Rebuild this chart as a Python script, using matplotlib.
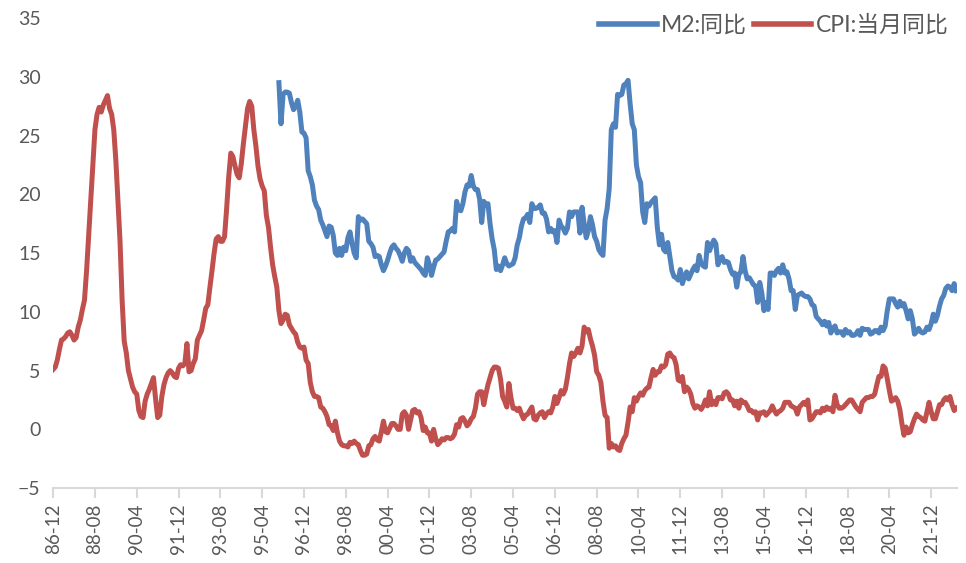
import matplotlib
matplotlib.use('Agg')
import matplotlib.pyplot as plt
import pandas as pd

plt.rcParams['font.family'] = ['Lato', 'Noto Sans CJK SC', 'DejaVu Sans']

# Monthly data, 1986-12 .. 2022-12
start_month = '1986-12'
end_month = '2022-12'
m2_start = '1995-12'

cpi = [5.1,
       5.3, 5.9, 6.8, 7.6, 7.7, 7.9, 8.2, 8.3, 8.0, 7.6, 7.8, 8.7,
       9.3, 10.2, 11.0, 13.5, 16.5, 19.5, 22.5, 25.5, 26.8, 27.4, 27.0, 27.6,
       28.0, 28.4, 27.3, 26.8, 25.5, 22.9, 19.5, 16.0, 11.0, 7.5, 6.5, 5.0,
       4.3, 3.6, 3.2, 3.0, 1.6, 1.1, 1.0, 2.4, 3.0, 3.4, 3.9, 4.4,
       2.6, 1.0, 1.2, 2.8, 3.8, 4.4, 4.8, 5.0, 4.8, 4.5, 4.4, 5.2,
       5.5, 5.4, 5.6, 7.3, 4.9, 5.0, 5.6, 6.0, 7.6, 8.0, 8.4, 9.3,
       10.3, 10.6, 12.1, 13.5, 15.0, 16.2, 16.4, 16.0, 16.0, 16.4, 18.8, 21.5,
       23.5, 23.2, 22.4, 21.7, 21.4, 22.6, 24.3, 25.8, 27.3, 27.9, 27.5, 25.5,
       24.1, 22.4, 21.3, 20.7, 20.3, 18.2, 17.2, 15.5, 14.0, 13.0, 12.1, 10.1,
       9.0, 9.3, 9.8, 9.7, 8.9, 8.6, 8.3, 8.1, 7.4, 7.0, 6.9, 7.0,
       5.9, 5.6, 4.0, 3.2, 2.8, 2.8, 2.7, 1.9, 1.8, 1.5, 1.1, 0.4,
       0.3, -0.1, 0.7, -0.3, -1.0, -1.3, -1.4, -1.4, -1.5, -1.1, -1.2, -1.0,
       -1.2, -1.3, -1.8, -2.2, -2.2, -2.1, -1.4, -1.3, -0.8, -0.6, -0.9, -1.0,
       -0.2, 0.7, -0.2, -0.3, 0.1, 0.5, 0.5, 0.3, 0.0, 0.0, 1.3, 1.5,
       1.2, 0.0, 0.8, 1.6, 1.7, 1.4, 1.5, 1.0, -0.1, 0.2, -0.3, -0.3,
       -1.0, 0.0, -0.8, -1.3, -1.1, -0.8, -0.9, -0.7, -0.7, -0.8, -0.7, -0.4,
       0.4, 0.2, 0.9, 1.0, 0.7, 0.3, 0.5, 0.9, 1.1, 1.8, 3.0, 3.2,
       3.2, 2.1, 3.0, 3.8, 4.4, 5.0, 5.3, 5.3, 5.2, 4.3, 2.8, 2.4,
       1.9, 3.9, 2.7, 1.8, 1.8, 1.6, 1.8, 1.3, 0.9, 1.2, 1.3, 1.6,
       1.9, 0.9, 0.8, 1.2, 1.4, 1.5, 1.0, 1.3, 1.5, 1.4, 1.9, 2.8,
       2.2, 2.7, 3.3, 3.0, 3.4, 4.4, 5.6, 6.5, 6.2, 6.5, 6.9, 6.5,
       7.1, 8.7, 8.3, 8.5, 7.7, 7.1, 6.3, 4.9, 4.6, 4.0, 2.4, 1.2,
       1.0, -1.6, -1.2, -1.5, -1.4, -1.7, -1.8, -1.2, -0.8, -0.5, 0.6, 1.9,
       1.5, 2.7, 2.4, 2.8, 3.1, 2.9, 3.3, 3.5, 3.6, 4.4, 5.1, 4.6,
       4.9, 4.9, 5.4, 5.3, 5.5, 6.4, 6.5, 6.2, 6.1, 5.5, 4.2, 4.1,
       4.5, 3.2, 3.6, 3.4, 3.0, 2.2, 1.8, 2.0, 1.9, 1.7, 2.0, 2.5,
       2.0, 3.2, 2.1, 2.4, 2.1, 2.7, 2.7, 2.6, 3.1, 3.2, 3.0, 2.5,
       2.5, 2.0, 2.4, 1.8, 2.5, 2.3, 2.3, 2.0, 1.6, 1.6, 1.4, 1.5,
       0.8, 1.4, 1.4, 1.5, 1.2, 1.4, 1.6, 2.0, 1.6, 1.3, 1.5, 1.6,
       1.8, 2.3, 2.3, 2.3, 2.0, 1.9, 1.8, 1.3, 1.9, 2.1, 2.3, 2.1,
       2.5, 0.8, 0.9, 1.2, 1.5, 1.5, 1.4, 1.8, 1.6, 1.9, 1.7, 1.8,
       1.5, 2.9, 2.1, 1.8, 1.8, 1.9, 2.1, 2.3, 2.5, 2.5, 2.2, 1.9,
       1.7, 1.5, 2.3, 2.5, 2.7, 2.7, 2.8, 2.8, 3.0, 3.8, 4.5, 4.5,
       5.4, 5.2, 4.3, 3.3, 2.4, 2.5, 2.7, 2.4, 1.7, 0.5, -0.5, 0.2,
       -0.3, -0.2, 0.4, 0.9, 1.3, 1.1, 1.0, 0.8, 0.7, 1.5, 2.3, 1.5,
       0.9, 0.9, 1.5, 2.1, 2.1, 2.5, 2.7, 2.5, 2.8, 2.1, 1.6, 1.8]

m2 = [29.5,
      26.0, 28.5, 28.7, 28.7, 28.6, 27.8, 27.2, 27.5, 28.0, 27.0, 25.3, 25.2,
      24.8, 22.0, 21.5, 20.8, 19.5, 19.0, 18.7, 17.8, 17.4, 16.9, 16.4, 17.3,
      17.2, 16.5, 15.0, 14.8, 15.4, 14.8, 15.5, 15.2, 16.3, 16.8, 15.8, 15.0,
      14.6, 18.1, 17.8, 17.9, 17.7, 17.5, 16.0, 15.8, 15.5, 14.7, 14.8, 14.7,
      14.0, 13.5, 13.9, 14.4, 15.0, 15.5, 15.7, 15.4, 15.2, 14.8, 14.3, 15.0,
      15.4, 15.2, 14.3, 14.6, 14.2, 14.0, 13.8, 13.6, 13.3, 13.1, 14.6, 14.0,
      13.1, 13.8, 14.4, 14.5, 14.7, 14.9, 15.1, 16.0, 16.8, 16.9, 17.1, 16.8,
      19.4, 18.7, 18.6, 19.2, 20.2, 20.8, 20.7, 21.6, 20.7, 20.4, 20.4, 19.6,
      17.6, 19.4, 19.1, 19.2, 17.5, 16.2, 15.3, 13.6, 13.9, 13.5, 14.0, 14.6,
      14.1, 13.9, 14.0, 14.1, 14.6, 15.7, 16.3, 17.3, 17.9, 18.0, 18.3, 17.6,
      19.2, 18.8, 18.8, 18.9, 19.1, 18.4, 18.4, 17.9, 16.8, 17.1, 16.8, 16.9,
      15.9, 17.8, 17.3, 17.1, 16.7, 17.1, 18.5, 18.1, 18.5, 18.5, 18.5, 16.7,
      18.9, 17.5, 16.3, 16.9, 18.1, 17.4, 16.4, 16.0, 15.3, 15.0, 14.8, 17.8,
      18.8, 20.5, 25.5, 26.0, 25.7, 28.5, 28.4, 28.5, 29.3, 29.4, 29.7, 27.7,
      26.0, 25.5, 22.5, 21.5, 21.0, 18.5, 17.6, 19.2, 19.0, 19.3, 19.5, 19.7,
      17.2, 15.7, 16.6, 15.3, 15.1, 15.9, 14.7, 13.5, 13.0, 12.9, 12.7, 13.6,
      12.4, 13.0, 13.4, 12.8, 13.2, 13.6, 13.9, 13.5, 14.8, 14.1, 13.9, 13.8,
      15.9, 15.2, 15.7, 16.1, 15.8, 14.0, 14.5, 14.7, 14.2, 14.3, 14.2, 13.6,
      13.2, 13.3, 12.1, 13.2, 13.4, 14.7, 13.5, 12.8, 12.9, 12.6, 12.3, 12.2,
      10.8, 12.5, 11.6, 10.1, 10.8, 10.2, 13.3, 13.3, 13.1, 13.5, 13.7, 13.3,
      14.0, 13.3, 13.4, 12.8, 11.8, 11.8, 10.2, 11.4, 11.5, 11.6, 11.4, 11.3,
      11.3, 11.1, 10.6, 10.5, 9.6, 9.4, 9.2, 8.9, 9.2, 8.8, 9.1, 8.2,
      8.6, 8.8, 8.2, 8.3, 8.3, 8.0, 8.5, 8.2, 8.3, 8.0, 8.0, 8.1,
      8.4, 8.0, 8.6, 8.5, 8.5, 8.5, 8.1, 8.2, 8.4, 8.4, 8.2, 8.7,
      8.4, 8.8, 10.1, 11.1, 11.1, 11.1, 10.7, 10.4, 10.9, 10.5, 10.7, 10.1,
      9.4, 10.1, 9.4, 8.1, 8.3, 8.6, 8.3, 8.2, 8.3, 8.7, 8.5, 9.0,
      9.8, 9.2, 9.7, 10.5, 11.1, 11.4, 12.0, 12.2, 12.1, 11.8, 12.4, 11.8]

months = pd.period_range(start_month, end_month, freq='M')
labels = [p.strftime('%y-%m') for p in months]
m2_offset = list(months).index(pd.Period(m2_start, freq='M'))

blue = '#4F81BD'
red = '#C0504D'
text_gray = '#595959'
axis_gray = '#D9D9D9'

fig = plt.figure(figsize=(9.66, 5.63), dpi=100)
ax = fig.add_axes([0.055, 0.133, 0.936, 0.835])

x_all = list(range(len(months)))
ax.plot(x_all[m2_offset:], m2, color=blue, lw=3.6, label='M2:同比', solid_joinstyle='round')
ax.plot(x_all, cpi, color=red, lw=3.6, label='CPI:当月同比', solid_joinstyle='round')

ax.set_xlim(0, len(months) - 0.5)
ax.set_ylim(-5, 35)
ax.set_yticks(range(-5, 36, 5))
tick_pos = list(range(0, len(months), 20))
ax.set_xticks(tick_pos)
ax.set_xticklabels([labels[i] for i in tick_pos], rotation=90)

for s in ['top', 'right', 'left']:
    ax.spines[s].set_visible(False)
ax.spines['bottom'].set_color(axis_gray)
ax.spines['bottom'].set_linewidth(1.5)
ax.tick_params(axis='y', length=0, labelsize=14, labelcolor=text_gray, pad=9)
ax.tick_params(axis='x', length=7, width=1.5, color=axis_gray, labelsize=13.5,
               labelcolor=text_gray, pad=4)

leg = ax.legend(loc='center right', ncol=2, frameon=False,
                bbox_to_anchor=(0.982, 1 - 25 / 563), bbox_transform=fig.transFigure,
                borderpad=0, borderaxespad=0,
                fontsize=16.5, handlelength=2.5, handletextpad=0.2, columnspacing=0.3,
                labelcolor=text_gray)
for line in leg.get_lines():
    line.set_linewidth(4)

plt.savefig('out.png', dpi=100)
